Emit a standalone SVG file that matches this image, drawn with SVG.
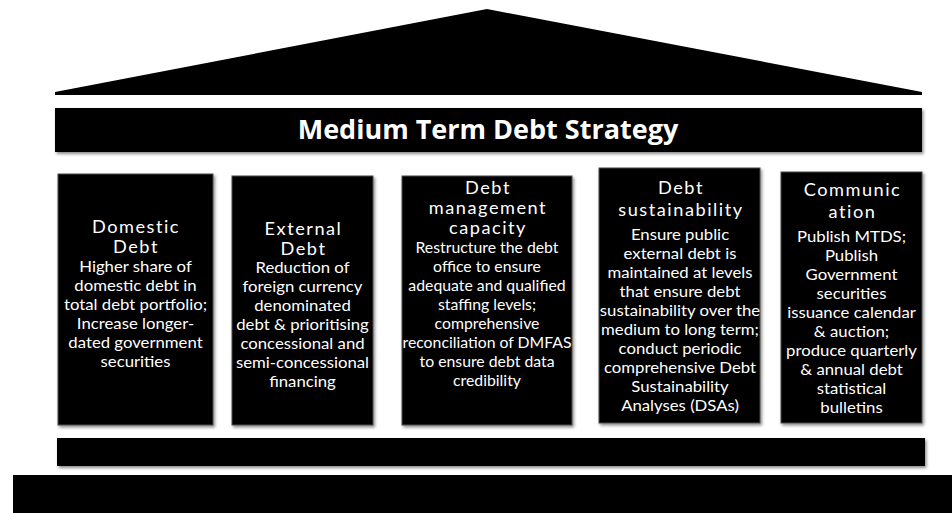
<svg xmlns="http://www.w3.org/2000/svg" width="952" height="513" viewBox="0 0 952 513">
<defs>
<filter id="sh" x="-10%" y="-10%" width="125%" height="125%">
<feDropShadow dx="1.5" dy="2" stdDeviation="1.5" flood-color="#000" flood-opacity="0.45"/>
</filter>
</defs>
<style>
.pillar{fill:#000;stroke:#4a4a4a;stroke-width:1;filter:url(#sh)}
.bar{fill:#000;filter:url(#sh)}
.head{font-family:Lato,"Liberation Sans",sans-serif;font-size:16.5px;fill:#fff;text-anchor:middle;letter-spacing:1.4px}
.body{font-family:Lato,"Liberation Sans",sans-serif;font-size:15.5px;fill:#fff;text-anchor:middle}
.title{font-family:"Open Sans","Liberation Sans",sans-serif;font-size:27px;font-weight:bold;fill:#fff;text-anchor:middle}
</style>
<rect width="952" height="513" fill="#fff"/>
<g id="roof">
<polygon points="55,92 487,9 922,92 922,95 55,95" fill="#000"/>
</g>
<g id="title">
<rect x="55" y="108" width="867" height="44" class="bar"/>
<text x="488" y="139" class="title">Medium Term Debt Strategy</text>
</g>
<g id="connectors"></g>
<g id="domestic">
<rect x="58" y="174" width="155" height="251" class="pillar"/>
<text class="head" transform="translate(136,0) scale(1.1,1)"><tspan x="0" y="233">Domestic</tspan><tspan x="0" y="253">Debt</tspan></text>
<text class="body" transform="translate(135.5,0) scale(1.08,1)"><tspan x="0" y="272">Higher share of</tspan><tspan x="0" y="291">domestic debt in</tspan><tspan x="0" y="310">total debt portfolio;</tspan><tspan x="0" y="329">Increase longer-</tspan><tspan x="0" y="348">dated government</tspan><tspan x="0" y="367">securities</tspan></text>
</g>
<g id="external">
<rect x="232" y="176" width="141" height="249" class="pillar"/>
<text class="head" transform="translate(303.5,0) scale(1.1,1)"><tspan x="0" y="235">External</tspan><tspan x="0" y="255">Debt</tspan></text>
<text class="body" transform="translate(302.5,0) scale(1.08,1)"><tspan x="0" y="273">Reduction of</tspan><tspan x="0" y="292">foreign currency</tspan><tspan x="0" y="311">denominated</tspan><tspan x="0" y="330">debt &amp; prioritising</tspan><tspan x="0" y="349">concessional and</tspan><tspan x="0" y="368">semi-concessional</tspan><tspan x="0" y="387">financing</tspan></text>
</g>
<g id="capacity">
<rect x="402" y="176" width="170" height="249" class="pillar"/>
<text class="head" transform="translate(488,0) scale(1.1,1)"><tspan x="0" y="194">Debt</tspan><tspan x="0" y="214">management</tspan><tspan x="0" y="234">capacity</tspan></text>
<text class="body" transform="translate(487,0) scale(1.02,1)"><tspan x="0" y="253">Restructure the debt</tspan><tspan x="0" y="272">office to ensure</tspan><tspan x="0" y="291">adequate and qualified</tspan><tspan x="0" y="310">staffing levels;</tspan><tspan x="0" y="329">comprehensive</tspan><tspan x="0" y="348">reconciliation of DMFAS</tspan><tspan x="0" y="367">to ensure debt data</tspan><tspan x="0" y="386">credibility</tspan></text>
</g>
<g id="sustainability">
<rect x="599" y="168" width="161" height="255" class="pillar"/>
<text class="head" transform="translate(681,0) scale(1.1,1)"><tspan x="0" y="194">Debt</tspan><tspan x="0" y="216">sustainability</tspan></text>
<text class="body" transform="translate(680,0) scale(1.08,1)"><tspan x="0" y="240">Ensure public</tspan><tspan x="0" y="259">external debt is</tspan><tspan x="0" y="278">maintained at levels</tspan><tspan x="0" y="297">that ensure debt</tspan><tspan x="0" y="316">sustainability over the</tspan><tspan x="0" y="335">medium to long term;</tspan><tspan x="0" y="354">conduct periodic</tspan><tspan x="0" y="373">comprehensive Debt</tspan><tspan x="0" y="392">Sustainability</tspan><tspan x="0" y="411">Analyses (DSAs)</tspan></text>
</g>
<g id="communication">
<rect x="781" y="172" width="141" height="251" class="pillar"/>
<text class="head" transform="translate(852.5,0) scale(1.1,1)"><tspan x="0" y="196">Communic</tspan><tspan x="0" y="218">ation</tspan></text>
<text class="body" transform="translate(851.5,0) scale(1.08,1)"><tspan x="0" y="242">Publish MTDS;</tspan><tspan x="0" y="261">Publish</tspan><tspan x="0" y="280">Government</tspan><tspan x="0" y="299">securities</tspan><tspan x="0" y="318">issuance calendar</tspan><tspan x="0" y="337">&amp; auction;</tspan><tspan x="0" y="356">produce quarterly</tspan><tspan x="0" y="375">&amp; annual debt</tspan><tspan x="0" y="394">statistical</tspan><tspan x="0" y="413">bulletins</tspan></text>
</g>
<g id="base">
<rect x="57" y="438" width="868" height="28" class="bar"/>
<rect x="13" y="475" width="939" height="38" fill="#000"/>
</g>
</svg>
